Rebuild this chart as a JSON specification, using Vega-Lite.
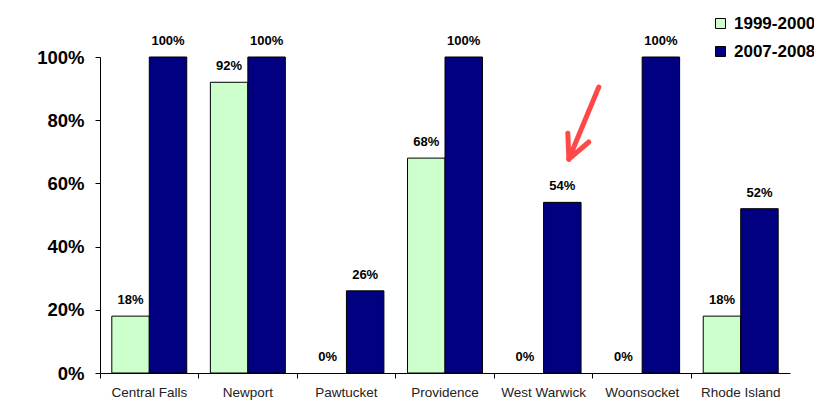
{
  "$schema": "https://vega.github.io/schema/vega-lite/v6.json",
  "autosize": "none",
  "width": 690,
  "height": 316,
  "padding": {"left": 100, "top": 57, "right": 24, "bottom": 32},
  "background": "white",
  "config": {
    "view": {"stroke": null},
    "font": "Liberation Sans"
  },
  "datasets": {
    "bars": [
      {"city": "Central Falls", "period": "1999-2000", "value": 0.18},
      {"city": "Central Falls", "period": "2007-2008", "value": 1.00},
      {"city": "Newport", "period": "1999-2000", "value": 0.92},
      {"city": "Newport", "period": "2007-2008", "value": 1.00},
      {"city": "Pawtucket", "period": "1999-2000", "value": 0.0},
      {"city": "Pawtucket", "period": "2007-2008", "value": 0.26},
      {"city": "Providence", "period": "1999-2000", "value": 0.68},
      {"city": "Providence", "period": "2007-2008", "value": 1.00},
      {"city": "West Warwick", "period": "1999-2000", "value": 0.0},
      {"city": "West Warwick", "period": "2007-2008", "value": 0.54},
      {"city": "Woonsocket", "period": "1999-2000", "value": 0.0},
      {"city": "Woonsocket", "period": "2007-2008", "value": 1.00},
      {"city": "Rhode Island", "period": "1999-2000", "value": 0.18},
      {"city": "Rhode Island", "period": "2007-2008", "value": 0.52}
    ],
    "arrow": [
      {"ax": 5.06, "ay": 0.905, "ax2": 4.757, "ay2": 0.677},
      {"ax": 4.746, "ay": 0.759, "ax2": 4.757, "ay2": 0.677},
      {"ax": 4.959, "ay": 0.731, "ax2": 4.757, "ay2": 0.677}
    ]
  },
  "layer": [
    {
      "data": {"name": "bars"},
      "encoding": {
        "x": {
          "field": "city", "type": "nominal", "sort": null,
          "scale": {"paddingInner": 0, "paddingOuter": 0},
          "axis": {
            "title": null, "labelAngle": 0, "bandPosition": 0,
            "labelFontSize": 13.5, "labelColor": "#222", "labelFont": "Liberation Sans",
            "domainColor": "black", "tickColor": "black", "tickSize": 5, "labelPadding": 7
          }
        },
        "xOffset": {
          "field": "period", "type": "nominal",
          "scale": {"paddingInner": 0, "paddingOuter": 0.315}
        },
        "y": {
          "field": "value", "type": "quantitative",
          "scale": {"domain": [0, 1], "nice": false},
          "axis": {
            "title": null, "format": ".0%", "values": [0, 0.2, 0.4, 0.6, 0.8, 1],
            "grid": false, "labelFontSize": 18.5, "labelFontWeight": "bold", "labelColor": "black",
            "domainColor": "black", "tickColor": "black", "tickSize": 5, "labelPadding": 11
          }
        }
      },
      "layer": [
        {
          "mark": {"type": "bar", "stroke": "black"},
          "encoding": {
            "strokeWidth": {"condition": {"test": "datum.value == 0", "value": 0}, "value": 1},
            "color": {
              "field": "period", "type": "nominal",
              "scale": {"domain": ["1999-2000", "2007-2008"], "range": ["#CCFFCC", "#000080"]},
              "legend": {
                "title": null, "orient": "none", "legendX": 612, "legendY": -42,
                "symbolType": "square", "symbolSize": 100, "symbolStrokeColor": "black", "symbolStrokeWidth": 1,
                "labelFontSize": 17, "labelFontWeight": "bold", "labelColor": "black", "rowPadding": 10, "labelOffset": 5
              }
            }
          }
        },
        {
          "mark": {"type": "text", "dy": -16, "fontSize": 13, "fontWeight": "bold", "color": "black"},
          "encoding": {
            "text": {"field": "value", "type": "quantitative", "format": ".0%"}
          }
        }
      ]
    },
    {
      "data": {"name": "arrow"},
      "mark": {"type": "rule", "color": "#FF4848", "strokeWidth": 5, "strokeCap": "round"},
      "encoding": {
        "x": {"field": "ax", "type": "quantitative", "scale": {"domain": [0, 7], "nice": false}, "axis": null},
        "x2": {"field": "ax2"},
        "y": {"field": "ay", "type": "quantitative"},
        "y2": {"field": "ay2"}
      }
    }
  ],
  "resolve": {"scale": {"x": "independent"}}
}
